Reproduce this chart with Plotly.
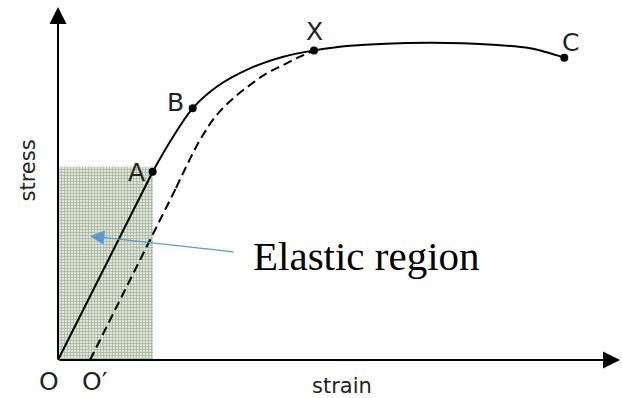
import plotly.graph_objects as go

# ---- data (arbitrary strain / stress units) ----
solid_linear_strain = [0, 94.7]
solid_linear_stress = [0, 188.3]

solid_curve_strain = [94.7, 112, 134.7, 158.7, 192, 225.3, 256, 288.7, 372, 438.7, 472, 488.7, 506.3]
solid_curve_stress = [188.3, 218.3, 251.7, 273.3, 291.7, 303.3, 309.5, 314, 317.3, 315, 311.7, 307.7, 302.3]

unload_linear_strain = [32, 118]
unload_linear_stress = [0, 172]
unload_curve_strain = [118, 142, 158.7, 175.3, 192, 208.7, 225.3, 242, 256]
unload_curve_stress = [172, 220, 245, 261.7, 275, 286.7, 295, 303.3, 309.5]

point_names = ["A", "B", "X", "C"]
point_strain = [94.7, 134.7, 256, 506.3]
point_stress = [188.3, 251.7, 309.5, 302.3]
label_strain = [78.5, 117.5, 256, 512.5]
label_stress = [187.5, 258, 328.5, 317.5]

elastic_strain = [0, 95, 95, 0, 0]
elastic_stress = [0, 0, 193.3, 193.3, 0]

x_range = [-58, 564]
y_range = [-38, 360]
x_axis_end = 562
y_axis_end = 353

fig = go.Figure()

# shaded elastic region
fig.add_trace(go.Scatter(
    x=elastic_strain, y=elastic_stress, mode="lines", fill="toself",
    line=dict(width=0, color="rgba(0,0,0,0)"),
    fillcolor="rgba(0,0,0,0)",
    fillpattern=dict(shape="+", size=3, solidity=0.4,
                     fgcolor="#5e7c52", bgcolor="#dfe5da"),
    hoverinfo="skip", showlegend=False))

# unloading (dashed) path
fig.add_trace(go.Scatter(x=unload_linear_strain, y=unload_linear_stress, mode="lines",
                         line=dict(color="black", width=2, dash="9px,5px"),
                         showlegend=False, hoverinfo="skip"))
fig.add_trace(go.Scatter(x=unload_curve_strain, y=unload_curve_stress, mode="lines",
                         line=dict(color="black", width=2, dash="9px,5px",
                                   shape="spline", smoothing=1.0),
                         showlegend=False, hoverinfo="skip"))

# loading curve
fig.add_trace(go.Scatter(x=solid_linear_strain, y=solid_linear_stress, mode="lines",
                         line=dict(color="black", width=2),
                         showlegend=False, hoverinfo="skip"))
fig.add_trace(go.Scatter(x=solid_curve_strain, y=solid_curve_stress, mode="lines",
                         line=dict(color="black", width=2, shape="spline", smoothing=1.0),
                         showlegend=False, hoverinfo="skip"))

# points
fig.add_trace(go.Scatter(x=point_strain, y=point_stress, mode="markers",
                         marker=dict(color="black", size=8),
                         showlegend=False, hoverinfo="skip"))

label_font = dict(family="DejaVu Sans", size=25, color="#222")
for n, xs, ys in zip(point_names, label_strain, label_stress):
    fig.add_annotation(x=xs, y=ys, text=n, showarrow=False, font=label_font,
                       xanchor="center", yanchor="middle")

fig.add_annotation(x=-9, y=-21.5, text="O", showarrow=False, font=label_font,
                   xanchor="center", yanchor="middle")
fig.add_annotation(x=22, y=-21.5, text="O′", showarrow=False, font=label_font,
                   xanchor="left", yanchor="middle")

axis_font = dict(family="DejaVu Sans", size=21, color="#222")
fig.add_annotation(x=284, y=-26, text="strain", showarrow=False, font=axis_font,
                   xanchor="center", yanchor="middle")
fig.add_annotation(x=-30.5, y=189, text="stress", showarrow=False, font=axis_font,
                   textangle=-90, xanchor="center", yanchor="middle")

# axes with arrows
fig.add_annotation(x=x_axis_end, y=0, ax=0, ay=0, axref="x", ayref="y",
                   xref="x", yref="y", text="", showarrow=True,
                   arrowhead=2, arrowsize=1.7, arrowwidth=2, arrowcolor="black")
fig.add_annotation(x=0, y=y_axis_end, ax=0, ay=0, axref="x", ayref="y",
                   xref="x", yref="y", text="", showarrow=True,
                   arrowhead=2, arrowsize=1.7, arrowwidth=2, arrowcolor="black")

# elastic region callout
fig.add_annotation(x=32, y=124, ax=177, ay=108, axref="x", ayref="y",
                   text="", showarrow=True, arrowhead=2, arrowsize=2.2,
                   arrowwidth=1.3, arrowcolor="#5b9bd5")
fig.add_annotation(x=193, y=104, text="Elastic region", showarrow=False,
                   font=dict(family="Liberation Serif", size=41, color="black"),
                   xanchor="left", yanchor="middle")

fig.update_layout(
    width=622, height=398,
    margin=dict(l=0, r=0, t=0, b=0),
    paper_bgcolor="white", plot_bgcolor="white",
    xaxis=dict(range=x_range, visible=False, fixedrange=True),
    yaxis=dict(range=y_range, visible=False, fixedrange=True),
)

fig.write_html("out.html", config={"displayModeBar": False},
               post_script="document.body.style.margin='0';document.body.style.overflow='hidden';")
